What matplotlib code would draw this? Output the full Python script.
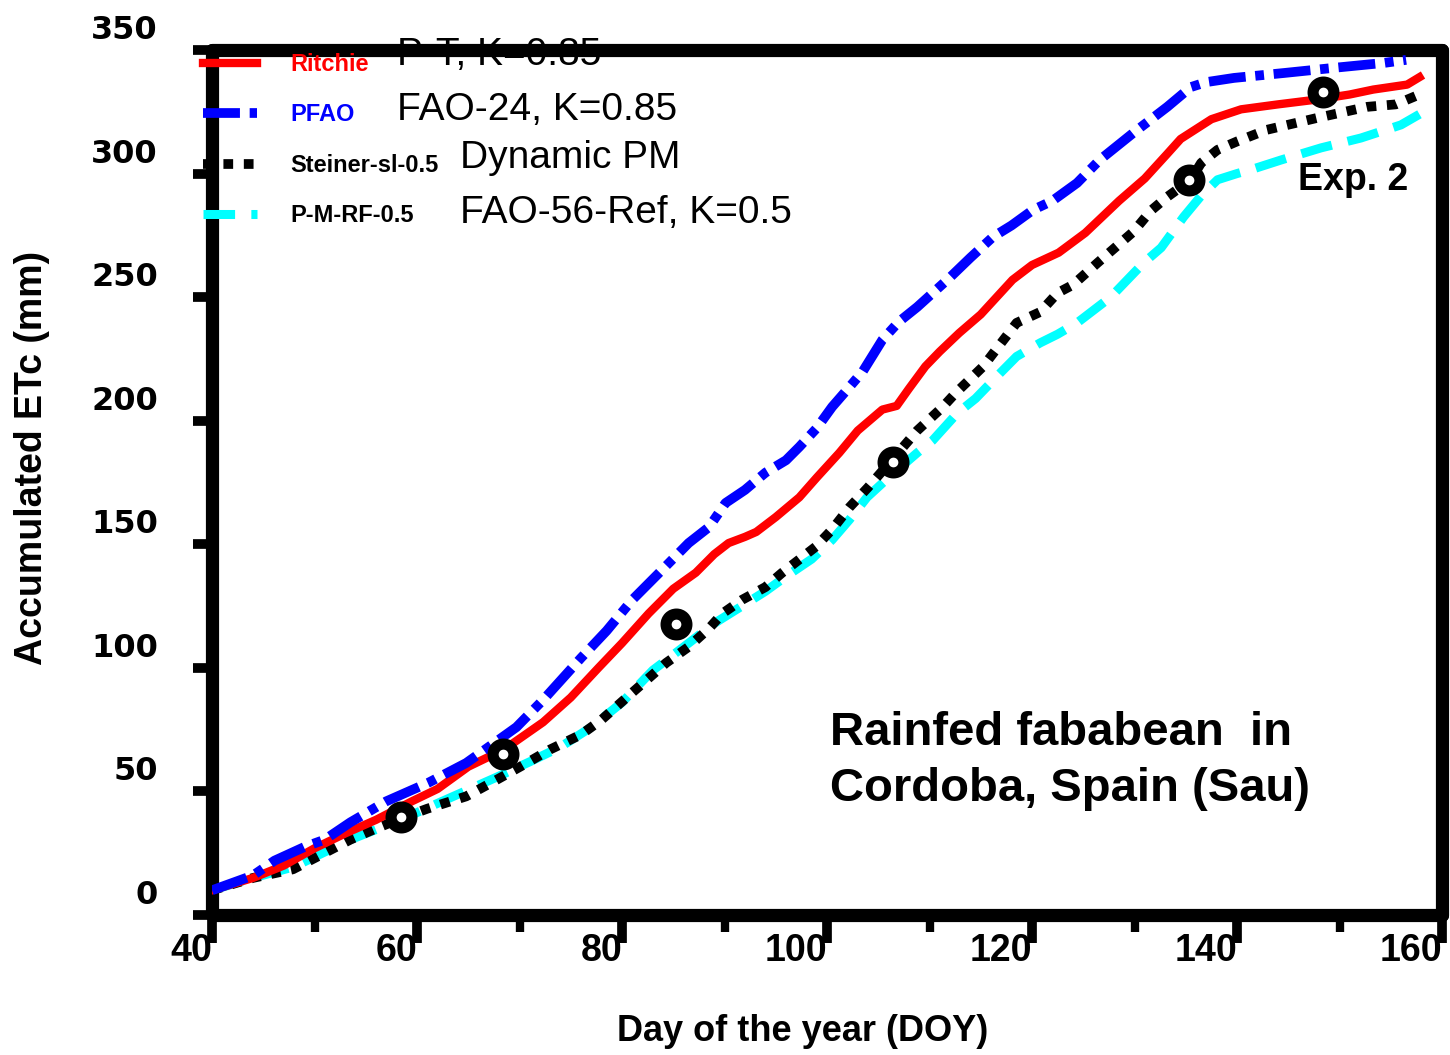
import numpy as np
import matplotlib
matplotlib.use('Agg')
import matplotlib.pyplot as plt
from matplotlib.lines import Line2D
from matplotlib.transforms import ScaledTranslation

red_doy = [40, 44, 47, 50, 53, 56, 59.5, 62, 65, 68.5, 72.3, 75, 77.7, 80, 82.6, 85, 87.2, 89, 90.4, 92,
           93.1, 95, 97.3, 99, 101.2, 103, 105.4, 106.8, 108, 109.6, 111, 112.9, 115, 118.1, 120, 122.6,
           125.2, 128.5, 131, 133.2, 134.5, 136, 137.5, 140.4, 144, 147.9, 151, 153.3, 156.6, 157.8]
red_etc = [10, 15, 20, 27, 33, 38.5, 46, 51, 60, 67, 78, 88, 100, 110, 122, 132, 138.5, 146, 150.5, 153,
           155, 161, 169, 177, 187, 196, 204.5, 206, 213, 222, 228, 235.5, 243, 257, 263, 268,
           276, 289, 298, 308, 314, 318, 322, 326, 328, 330, 332, 334, 336, 339]

blue_doy = [40, 44, 46.1, 49, 51, 53.5, 57, 61.1, 64.8, 67, 69.7, 72.3, 76, 78.5, 81, 84, 86.5, 88.5,
            90.1, 92, 94, 96, 97.3, 99, 100.5, 102.2, 103.5, 105.4, 107, 108.8, 112, 114, 116.2, 118,
            120.1, 122, 124.4, 126.6, 129.9, 133.2, 135.5, 137, 139.7, 144.6, 149.5, 154.4, 156.5]
blue_etc = [10, 16, 22, 27.5, 30.5, 37.5, 46, 53.5, 61.5, 68, 76, 87, 104, 115, 127.5, 140, 150.5, 157,
            166.7, 172, 179, 184, 189.4, 197, 205.6, 213.7, 220, 232.7, 240, 246, 258, 266, 274.4, 279,
            285.3, 289, 296.2, 305.5, 316.5, 327, 335, 337, 338.7, 340.7, 342.8, 344.8, 346]

black_doy = [40, 44, 47.9, 50, 53.5, 56, 58.4, 61, 64.8, 67.9, 70.5, 73, 76, 78, 81, 84.3, 86.5, 88.5,
             89.8, 91.7, 94, 95.6, 98.9, 100.5, 102.2, 104, 106.1, 108.8, 111.3, 112.5, 115.2, 118.5,
             120.8, 122.5, 124, 126.4, 129.9, 131.6, 133.2, 135.5, 136.5, 138.1, 140, 142.9, 147.8,
             152.7, 155.5, 157.8]
black_etc = [10, 15, 18.5, 23, 30.5, 35, 39, 43, 48, 55, 61, 67, 73, 79, 90, 102, 108.5, 116,
             122, 127.5, 132.7, 138.4, 149, 156, 165, 173, 183, 196, 205.6, 211, 221.8, 239.6,
             244, 251.7, 255, 263.9, 276.5, 285, 290.6, 297.5, 304.3, 309.6, 313, 317.7, 322.5,
             327, 328, 332]

cyan_doy = [40, 44, 48, 53.5, 58.4, 63, 67.9, 71, 74, 77, 80, 83, 86.5, 89, 91.7, 94, 96, 98.5, 100.5,
            102.2, 103.9, 106, 108.8, 110.3, 112.7, 114.5, 116.9, 118.5, 120.8, 122.5, 124.4, 127.7,
            130.9, 132.6, 134.8, 136.5, 138.1, 140, 141.3, 144.3, 148.2, 152.1, 156, 157.8]
cyan_etc = [10, 15, 19.5, 30.5, 38.5, 47, 56, 62, 68, 76, 86, 99, 110, 118, 125, 131, 137, 144, 151.8,
            160, 169, 177, 187, 192, 203, 209, 219.3, 226, 231.5, 235, 239.6, 250.1,
            263.9, 270, 282.5, 291, 297.5, 300, 301.5, 305.5, 310.4, 314.4, 319.7, 324]

obs_doy = [58.4, 68.4, 85.3, 106.4, 135.3, 148.4]
obs_etc = [39.7, 65.2, 117.8, 183.3, 297.4, 333]

short_names = ['Ritchie', 'PFAO', 'Steiner-sl-0.5', 'P-M-RF-0.5']
long_names = ['P-T, K=0.85', 'FAO-24, K=0.85', 'Dynamic PM', 'FAO-56-Ref, K=0.5']
name_colors = ['red', 'blue', 'black', 'black']

plt.rcParams['font.family'] = ['Liberation Sans', 'DejaVu Sans']

fig = plt.figure(figsize=(14.5, 10.55), dpi=100)
ax = fig.add_axes([212/1450, 1-915/1055, 1230/1450, 865/1055])

st_red = dict(color='red', lw=6, ls='-')
st_blue = dict(color='blue', lw=7, ls=(0, (3.8, 1.0, 0.9, 1.0)))
st_black = dict(color='black', lw=7, ls=(0, (1.0, 1.1)))
st_cyan = dict(color='cyan', lw=6.5, ls=(0, (3.5, 1.8)))

ax.plot(cyan_doy, cyan_etc, **st_cyan, zorder=2)
ax.plot(black_doy, black_etc, **st_black, zorder=3)
ax.plot(red_doy, red_etc, **st_red, zorder=4)
ax.plot(blue_doy, blue_etc, **st_blue, zorder=5)
ax.plot(obs_doy, obs_etc, 'o', ms=15, mfc='white', mec='black', mew=8, zorder=6)

ax.set_xlim(40, 160)
ax.set_ylim(0, 350)
ax.set_xticks(np.arange(40, 161, 20))
ax.set_xticks(np.arange(50, 160, 20), minor=True)
ax.set_yticks(np.arange(0, 351, 50))

for s in ax.spines.values():
    s.set_linewidth(9.5)
    s.set_capstyle('round')

ax.tick_params(axis='x', which='major', direction='out', length=20, width=7, pad=-7)
ax.tick_params(axis='x', which='minor', direction='out', length=12, width=6)
ax.tick_params(axis='y', which='major', direction='out', length=14, width=7, pad=25)

for lab in ax.get_xticklabels():
    lab.set_ha('right')
    lab.set_fontweight('bold')
    lab.set_fontsize(27)
for lab in ax.get_yticklabels():
    lab.set_fontfamily('DejaVu Sans')
    lab.set_fontweight('bold')
    lab.set_fontsize(23)
    lab.set_transform(lab.get_transform() + ScaledTranslation(0, 0.23, fig.dpi_scale_trans))

ax.set_xlabel('Day of the year (DOY)', fontsize=26, fontweight='bold')
ax.xaxis.set_label_coords((803-212)/1230, -0.115)
ax.set_ylabel('Accumulated ETc (mm)', fontsize=27, fontweight='bold')
ax.yaxis.set_label_coords(-0.132, 0.528)

ax.text(0.5024, 0.236, 'Rainfed fababean  in\nCordoba, Spain (Sau)', transform=ax.transAxes,
        fontsize=34, fontweight='bold', ha='left', va='top', linespacing=1.35)
ax.text(0.883, 0.85, 'Exp. 2', transform=ax.transAxes, fontsize=27, fontweight='bold',
        ha='left', va='center')

handles = [Line2D([], [], **st_red), Line2D([], [], **st_blue),
           Line2D([], [], **st_black), Line2D([], [], **st_cyan)]
leg = fig.legend(handles, short_names, loc='upper left', bbox_to_anchor=(203/1450, 1-53/1055),
                 frameon=False, borderpad=0, borderaxespad=0, handlelength=2.3, handletextpad=1.4,
                 labelspacing=1.16, prop={'weight': 'bold', 'size': 17})
for t, c in zip(leg.get_texts(), name_colors):
    t.set_color(c)

long_x = [397, 397, 460, 460]
long_y = [55, 110, 158, 213]
for name, lx, ly in zip(long_names, long_x, long_y):
    fig.text(lx/1450, 1-ly/1055, name, fontsize=28, ha='left', va='center')

fig.savefig('out.png', dpi=100)
